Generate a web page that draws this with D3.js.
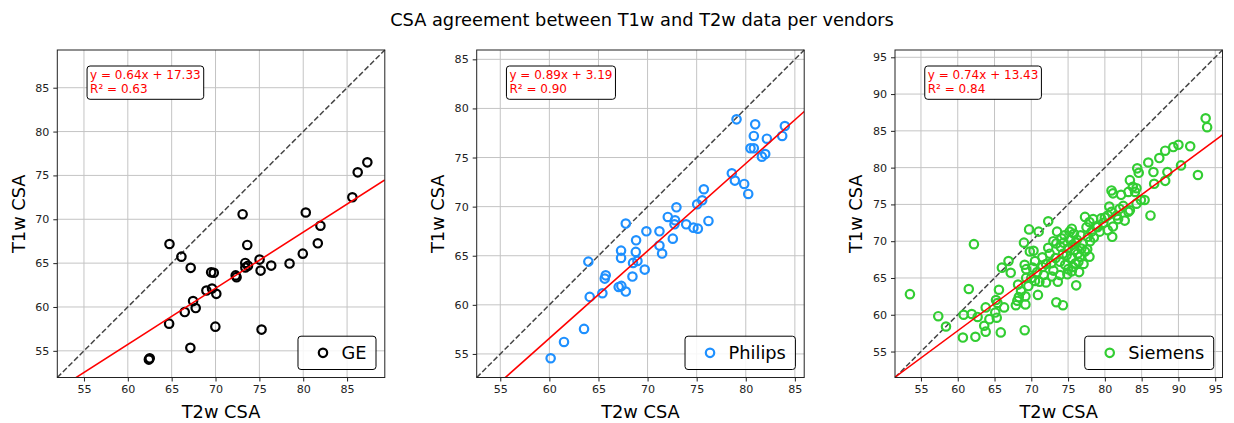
<!DOCTYPE html>
<html>
<head>
<meta charset="utf-8">
<script src="https://cdn.jsdelivr.net/npm/d3@7"></script>
<style>
 body{margin:0;background:#fff}
 svg{display:block;font-family:"DejaVu Sans",sans-serif}
</style>
</head>
<body>
<svg id="chart" width="1234" height="423"></svg>
<script>
// values
var vendors=["GE","Philips","Siemens"];
var vendorColors=["#000000","#1e90ff","#32cd32"];
var fitSlopes=[0.64,0.89,0.74];
var fitIntercepts=[17.33,3.19,13.43];
var r2Values=["0.63","0.90","0.84"];
var axisLimits=[[51.96,89.3],[52.6,85.95],[51.47,95.99]];
var tickValues=[[55,60,65,70,75,80,85],[55,60,65,70,75,80,85],[55,60,65,70,75,80,85,90,95]];

var geT2=[64.75,66.11,67.17,64.71,67.13,62.4,62.5,66.49,67.44,67.74,68.96,69.6,70.09,69.5,69.8,69.98,73.09,73.62,73.39,73.4,73.7,72.3,72.4,75.02,75.14,76.35,75.25,78.44,79.95,80.29,81.66,81.96,85.6,86.21,87.31];
var geT1=[67.18,65.74,64.46,58.1,55.34,54.0,54.15,59.42,60.67,59.88,61.88,62.11,61.5,63.95,63.9,57.76,70.58,67.07,65.02,64.5,64.7,63.6,63.4,65.4,64.15,64.72,57.42,64.95,66.08,70.77,67.26,69.26,72.51,75.35,76.49];

var philipsT2=[60.13,61.49,63.53,64.11,63.97,65.4,65.64,65.74,67.06,67.33,67.78,67.3,67.3,67.78,68.46,68.52,68.97,68.8,68.83,69.71,69.88,71.21,71.21,71.48,72.06,72.57,72.8,72.74,72.94,73.93,74.67,75.12,75.05,75.56,75.73,76.2,78.58,78.89,79.06,79.84,80.25,80.48,80.82,80.82,80.96,81.64,81.98,82.15,83.71,83.98];
var philipsT1=[54.56,56.22,57.55,60.81,64.4,61.18,62.67,63.0,61.82,61.93,61.35,65.52,64.78,68.27,62.88,64.27,64.47,65.39,66.57,63.59,67.49,67.49,66.03,65.22,68.95,66.74,68.61,68.2,69.93,68.2,67.86,67.76,70.24,70.65,71.77,68.54,73.39,72.65,78.89,72.31,71.29,75.94,75.94,77.2,78.38,75.09,75.36,76.92,77.2,78.21];

var siemensT2=[53.5,57.35,58.4,60.7,60.8,61.5,61.9,62.2,62.4,62.7,63.6,63.8,63.8,64.3,65.1,65.2,65.4,65.3,65.6,65.85,66.3,66.0,66.9,67.2,67.9,68.1,68.3,68.2,68.6,69.0,69.1,69.2,69.2,69.1,69.3,69.3,69.7,69.6,69.8,70.0,70.2,70.3,70.5,70.9,71.0,71.1,71.5,71.7,72.0,72.3,72.3,72.7,72.8,73.0,73.3,73.4,73.4,73.5,73.6,73.9,73.9,74.1,74.3,74.3,74.5,74.8,74.9,75.0,75.2,75.5,75.6,75.5,75.7,75.5,75.9,76.1,76.0,76.4,76.6,76.8,77.0,76.2,77.3,77.5,77.9,77.7,77.9,77.3,78.2,78.8,79.3,79.5,80.0,80.4,80.4,80.9,81.1,81.0,81.6,82.0,82.7,83.2,83.4,80.9,81.1,82.2,83.2,83.4,83.8,84.1,84.3,84.4,84.6,84.3,84.9,85.4,85.9,86.2,86.6,86.7,87.4,88.2,88.2,88.5,89.3,90.0,90.35,91.6,92.65,93.7,93.9,74.0,74.6,75.0,75.3,76.3,76.7,77.1,76.5,77.6,78.0,76.0,75.8,74.4,73.0,72.5,71.5,70.8,70.5,72.0,78.5,79.0,79.8,78.4,80.6,81.8,82.5];
var siemensT1=[62.8,59.8,58.4,56.9,60.0,63.5,60.1,69.6,57.0,59.7,58.5,57.7,61.0,59.4,60.3,62.0,61.6,59.6,63.4,57.6,61.0,66.4,67.3,65.7,61.3,61.9,62.4,64.1,63.2,69.8,57.9,61.4,62.5,66.8,66.2,65.0,71.6,63.9,68.6,65.0,66.4,68.7,64.6,62.7,71.3,64.5,67.8,65.4,64.4,72.7,69.1,67.0,65.2,66.0,67.7,61.7,69.7,71.3,64.5,65.4,67.2,70.4,61.3,68.3,70.8,68.1,65.5,69.0,71.3,71.7,69.5,67.7,66.5,65.9,68.8,64.0,67.0,67.2,67.9,69.0,69.7,70.2,73.3,71.9,72.6,70.6,67.9,68.6,71.3,72.0,71.3,73.1,73.2,73.5,71.5,74.0,72.0,70.6,73.5,74.4,72.8,74.0,74.2,76.9,76.5,76.3,76.7,78.3,77.4,76.7,77.2,79.9,79.3,75.1,75.6,75.6,80.7,73.5,79.4,77.8,81.3,82.3,78.2,79.4,82.8,83.1,80.3,82.9,79.0,86.7,85.5,69.2,66.8,66.2,70.2,68.3,70.8,66.9,65.8,68.9,70.0,69.8,71.0,69.8,70.0,68.3,66.5,65.8,67.3,66.9,70.5,71.9,72.5,73.0,74.7,73.0,74.8];

var seriesT2=[geT2,philipsT2,siemensT2];
var seriesT1=[geT1,philipsT1,siemensT1];

var svg=d3.select("#chart");
var plotLefts=[57.3,476.7,895];
var plotTop=50, plotSize=327.5;
var font="DejaVu Sans";

svg.append("text")
 .attr("x",642).attr("y",25.5)
 .attr("text-anchor","middle")
 .attr("font-size",17.8)
 .attr("fill","#000")
 .text("CSA agreement between T1w and T2w data per vendors");

vendors.forEach(function(name,i)
{
 var left=plotLefts[i];
 var lim=axisLimits[i];
 var x=d3.scaleLinear().domain(lim).range([left,left+plotSize]);
 var y=d3.scaleLinear().domain(lim).range([plotTop+plotSize,plotTop]);
 var g=svg.append("g");
 var ticks=tickValues[i];

 // grid
 g.selectAll(".gx").data(ticks).enter().append("line")
  .attr("x1",function(d){return x(d);}).attr("x2",function(d){return x(d);})
  .attr("y1",plotTop).attr("y2",plotTop+plotSize)
  .attr("stroke","#c4c4c4").attr("stroke-width",1);
 g.selectAll(".gy").data(ticks).enter().append("line")
  .attr("y1",function(d){return y(d);}).attr("y2",function(d){return y(d);})
  .attr("x1",left).attr("x2",left+plotSize)
  .attr("stroke","#c4c4c4").attr("stroke-width",1);

 // axes
 var xa=d3.axisBottom(x).tickValues(ticks).tickSize(4).tickPadding(4).tickFormat(d3.format("d"));
 var ya=d3.axisLeft(y).tickValues(ticks).tickSize(4).tickPadding(4).tickFormat(d3.format("d"));
 var gx=g.append("g").attr("transform","translate(0,"+(plotTop+plotSize)+")").call(xa);
 var gy=g.append("g").attr("transform","translate("+left+",0)").call(ya);
 [gx,gy].forEach(function(a)
 {
  a.select(".domain").remove();
  a.selectAll("line").attr("stroke","#222");
  a.selectAll("text").attr("font-family",font).attr("font-size",11.1).attr("fill","#222");
 });

 // diagonal identity line
 g.append("line")
  .attr("x1",x(lim[0])).attr("y1",y(lim[0]))
  .attr("x2",x(lim[1])).attr("y2",y(lim[1]))
  .attr("stroke","#454545").attr("stroke-width",1.5)
  .attr("stroke-dasharray","5.5,2.4");

 // points
 var pts=seriesT2[i].map(function(v,k){return [v,seriesT1[i][k]];});
 g.selectAll("circle.p").data(pts).enter().append("circle")
  .attr("cx",function(d){return x(d[0]);})
  .attr("cy",function(d){return y(d[1]);})
  .attr("r",4.2)
  .attr("fill","none")
  .attr("stroke",vendorColors[i])
  .attr("stroke-width",2.2);

 // regression line, clipped to the axes
 var clipId="clip"+i;
 svg.append("clipPath").attr("id",clipId).append("rect")
  .attr("x",left).attr("y",plotTop).attr("width",plotSize).attr("height",plotSize);
 var fx=[lim[0],lim[1]];
 g.append("line")
  .attr("clip-path","url(#"+clipId+")")
  .attr("x1",x(fx[0])).attr("y1",y(fitSlopes[i]*fx[0]+fitIntercepts[i]))
  .attr("x2",x(fx[1])).attr("y2",y(fitSlopes[i]*fx[1]+fitIntercepts[i]))
  .attr("stroke","#ff0000").attr("stroke-width",1.6);

 // frame
 g.append("rect")
  .attr("x",left).attr("y",plotTop).attr("width",plotSize).attr("height",plotSize)
  .attr("fill","none").attr("stroke","#222").attr("stroke-width",1);

 // equation box
 var bx=left+plotSize*0.1, by=plotTop+16.4;
 var box=g.append("rect").attr("fill","#fff").attr("stroke","#000").attr("stroke-width",1).attr("rx",3);
 var t=g.append("text").attr("font-size",12).attr("fill","#ff0000");
 t.append("tspan").attr("x",bx).attr("y",by+12.5).text("y = "+fitSlopes[i].toFixed(2)+"x + "+fitIntercepts[i].toFixed(2));
 t.append("tspan").attr("x",bx).attr("y",by+26.5).text("R\u00b2 = "+r2Values[i]);
 var bb=t.node().getBBox();
 box.attr("x",bx-3).attr("y",by-0.4).attr("width",bb.width+6).attr("height",33.3);

 // legend
 var lg=g.append("g");
 var lt=lg.append("text").attr("font-size",17.8).attr("fill","#000").text(name);
 var tw=lt.node().getComputedTextLength();
 var lw=tw+53, lh=33.3;
 var lx=left+plotSize-8.8-lw, ly=plotTop+plotSize-8-lh;
 lg.insert("rect","text").attr("x",lx).attr("y",ly).attr("width",lw).attr("height",lh)
  .attr("rx",3).attr("fill","#fff").attr("fill-opacity",0.85).attr("stroke","#000").attr("stroke-width",1);
 lg.append("circle").attr("cx",lx+25).attr("cy",ly+lh/2).attr("r",4.2)
  .attr("fill","none").attr("stroke",vendorColors[i]).attr("stroke-width",2.2);
 lt.attr("x",lx+43.5).attr("y",ly+lh/2+6.4);

 // axis labels
 g.append("text").attr("x",left+plotSize/2).attr("y",418)
  .attr("text-anchor","middle").attr("font-size",17.8).attr("fill","#000").text("T2w CSA");
 g.append("text")
  .attr("transform","translate("+(left-39.3+6.5)+","+(plotTop+plotSize/2)+") rotate(-90)")
  .attr("text-anchor","middle").attr("font-size",17.8).attr("fill","#000").text("T1w CSA");
});
</script>
</body>
</html>
